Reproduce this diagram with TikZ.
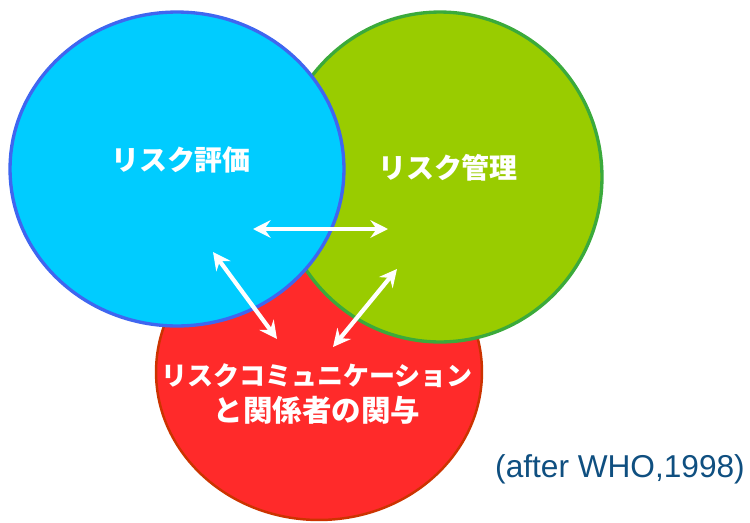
\documentclass[tikz,border=0pt]{standalone}
\usepackage{fontspec}
\setmainfont{Liberation Sans}
\newfontfamily\jpfont{Noto Sans CJK JP}
\usepackage{tikz}
\usetikzlibrary{positioning, arrows.meta, shapes.geometric}

\definecolor{assessfill}{HTML}{00CCFF}
\definecolor{assessline}{HTML}{3F66F0}
\definecolor{managefill}{HTML}{99CC00}
\definecolor{manageline}{HTML}{3BAA3B}
\definecolor{commfill}{HTML}{FF2A2A}
\definecolor{commline}{HTML}{CC3300}
\definecolor{notecol}{HTML}{0F4F80}

\begin{document}
\begin{tikzpicture}[x=0.02cm, y=0.02cm,
  area/.style={ellipse, inner sep=0pt},
  label/.style={text=white, font=\jpfont\bfseries\fontsize{15.9}{18}\selectfont},
  link/.style={{Stealth[length=10pt, width=10pt, inset=3.5pt]}-{Stealth[length=10pt, width=10pt, inset=3.5pt]}, white, line width=2.4pt}]
\useasboundingbox (0,0) rectangle (750,522);

% the three fields
\node[area, draw=commline, fill=commfill, line width=1.4pt, minimum width=6.52cm, minimum height=5.92cm] (comm) at (319,150) {};
\node[area, draw=manageline, fill=managefill, line width=1.9pt, minimum width=6.48cm, minimum height=6.6cm] (manage) at (440,345) {};
\node[area, draw=assessline, fill=assessfill, line width=1.9pt, minimum width=6.68cm, minimum height=6.28cm] (assess) at (177,353) {};

% labels
\node[label] (assesstext) at (181,362) {リスク評価};
\node[label] (managetext) at (448,354) {リスク管理};
\node[label, align=center, inner sep=0pt] (commtext) at (317,128)
  {{\fontsize{14.8}{20}\selectfont リスクコミュニケーション}\\[2pt]
   {\fontsize{16.8}{20}\selectfont と関係者の関与}};

% arrow ends
\coordinate (a1) at (253,293);
\coordinate (m1) at (388,293);
\coordinate (a2) at (213,270);
\coordinate (c2) at (277,183);
\coordinate (m3) at (397,253);
\coordinate (c3) at (333,175);

\draw[link] (a1)--(m1);
\draw[link] (a2)--(c2);
\draw[link] (m3)--(c3);

\node[text=notecol, font=\fontsize{18}{21}\selectfont] (source) at (620,53) {(after WHO,1998)};
\end{tikzpicture}
\end{document}
